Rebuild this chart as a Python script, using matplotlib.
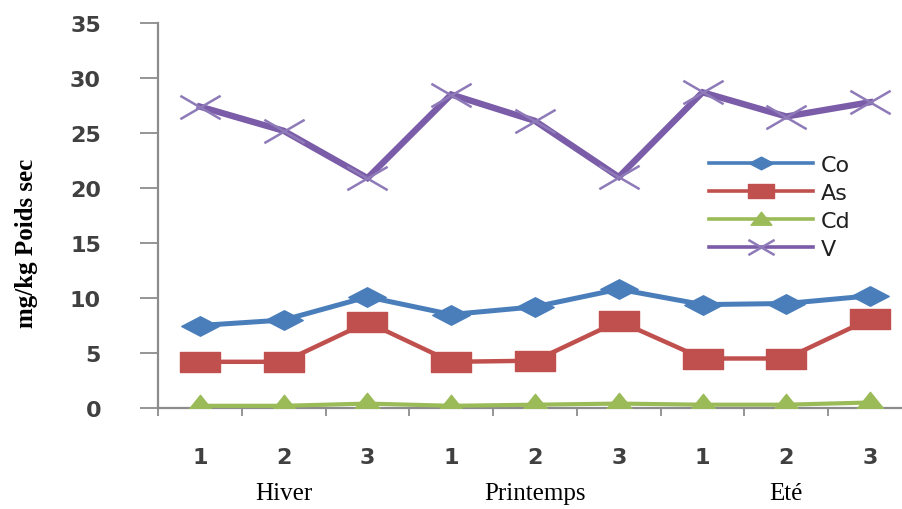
import matplotlib
matplotlib.use("Agg")
import matplotlib.pyplot as plt
from matplotlib.path import Path
from matplotlib import transforms

# Sampling campaigns: three stations per season
seasons = ["Hiver", "Printemps", "Eté"]
stations = ["1", "2", "3"]
tick_labels = stations * len(seasons)

co = [7.5, 8.0, 10.1, 8.5, 9.2, 10.8, 9.4, 9.5, 10.2]
as_ = [4.2, 4.2, 7.8, 4.2, 4.3, 7.9, 4.5, 4.5, 8.1]
cd = [0.2, 0.2, 0.4, 0.2, 0.3, 0.4, 0.3, 0.3, 0.5]
v = [27.4, 25.2, 20.9, 28.5, 26.1, 21.0, 28.7, 26.5, 27.8]

series_names = ["Co", "As", "Cd", "V"]
series_values = [co, as_, cd, v]

# Wide, flattened marker shapes
diamond = Path([(-1, 0), (0, 0.52), (1, 0), (0, -0.52), (-1, 0)],
               [Path.MOVETO, Path.LINETO, Path.LINETO, Path.LINETO, Path.CLOSEPOLY])
square = Path([(-1, -0.5), (1, -0.5), (1, 0.5), (-1, 0.5), (-1, -0.5)],
              [Path.MOVETO, Path.LINETO, Path.LINETO, Path.LINETO, Path.CLOSEPOLY])
triangle = Path([(-1, -0.55), (1, -0.55), (0, 0.7), (-1, -0.55)],
                [Path.MOVETO, Path.LINETO, Path.LINETO, Path.CLOSEPOLY])
cross = Path([(-1, -0.58), (1, 0.58), (-1, 0.58), (1, -0.58)],
             [Path.MOVETO, Path.LINETO, Path.MOVETO, Path.LINETO])

styles = [
    dict(color="#4A7EBB", lw=3.6, marker=diamond, ms=27, mec="#4A7EBB", mfc="#4A7EBB"),
    dict(color="#C0504D", lw=3.2, marker=square, ms=29, mec="#C0504D", mfc="#C0504D"),
    dict(color="#9BBB59", lw=3.0, marker=triangle, ms=23, mec="#9BBB59", mfc="#9BBB59"),
    dict(color="#7B5CA8", lw=4.6, marker=cross, ms=29, mec="#8E7AB8", mew=1.8),
]

W, H = 903, 510
fig = plt.figure(figsize=(W / 100, H / 100), dpi=100)
fig.patch.set_facecolor("white")

x0, x1 = 158, 912
y_bottom, y_top = 409, 24
ax = fig.add_axes([x0 / W, 1 - y_bottom / H, (x1 - x0) / W, (y_bottom - y_top) / H])

x = list(range(len(tick_labels)))
for name, vals, st in zip(series_names, series_values, styles):
    ax.plot(x, vals, label=name, zorder=3, solid_joinstyle="miter", **st)

ax.set_xlim(-0.5, len(x) - 0.5)
ax.set_ylim(0, 35)
ax.set_yticks(range(0, 36, 5))

axis_grey = "#8C8C8C"
text_grey = "#404040"
for side in ("top", "right"):
    ax.spines[side].set_visible(False)
for side in ("left", "bottom"):
    ax.spines[side].set_color(axis_grey)
    ax.spines[side].set_linewidth(1.6)

ax.set_xticks(x)
ax.set_xticklabels(tick_labels)
ax.set_xticks([i - 0.5 for i in range(len(x) + 1)], minor=True)
ax.tick_params(axis="x", which="major", length=0, pad=28, labelsize=16, labelcolor=text_grey)
ax.tick_params(axis="x", which="minor", length=6, width=1.3, color=axis_grey, direction="out")
ax.tick_params(axis="y", which="major", length=13, width=1.3, color=axis_grey,
               direction="out", pad=28, labelsize=16, labelcolor=text_grey)
for lab in ax.get_xticklabels() + ax.get_yticklabels():
    lab.set_fontweight("bold")
    lab.set_family("DejaVu Sans")

ax.set_ylabel("mg/kg Poids sec", fontsize=18, fontweight="bold",
              family="Liberation Serif", color="black")
ax.yaxis.set_label_coords(38 / W, 1 - 243 / H, transform=fig.transFigure)

# Season names under the middle station of each group
blend = transforms.blended_transform_factory(ax.transData, fig.transFigure)
for i, s in enumerate(seasons):
    ax.text(i * 3 + 1, 1 - 494 / H, s, transform=blend, ha="center", va="center",
            fontsize=18, family="Liberation Serif", color="black")

leg = ax.legend(loc="upper left", bbox_to_anchor=(709 / W, 1 - 156 / H),
                bbox_transform=fig.transFigure, frameon=False, fontsize=16,
                handlelength=4.7, handletextpad=0.35, labelspacing=0.36,
                borderpad=0, borderaxespad=0, markerscale=0.65)
for t in leg.get_texts():
    t.set_color("#202020")
for h in leg.get_lines():
    h.set_linewidth(2.6)

fig.savefig("out.png", dpi=100, facecolor="white")
